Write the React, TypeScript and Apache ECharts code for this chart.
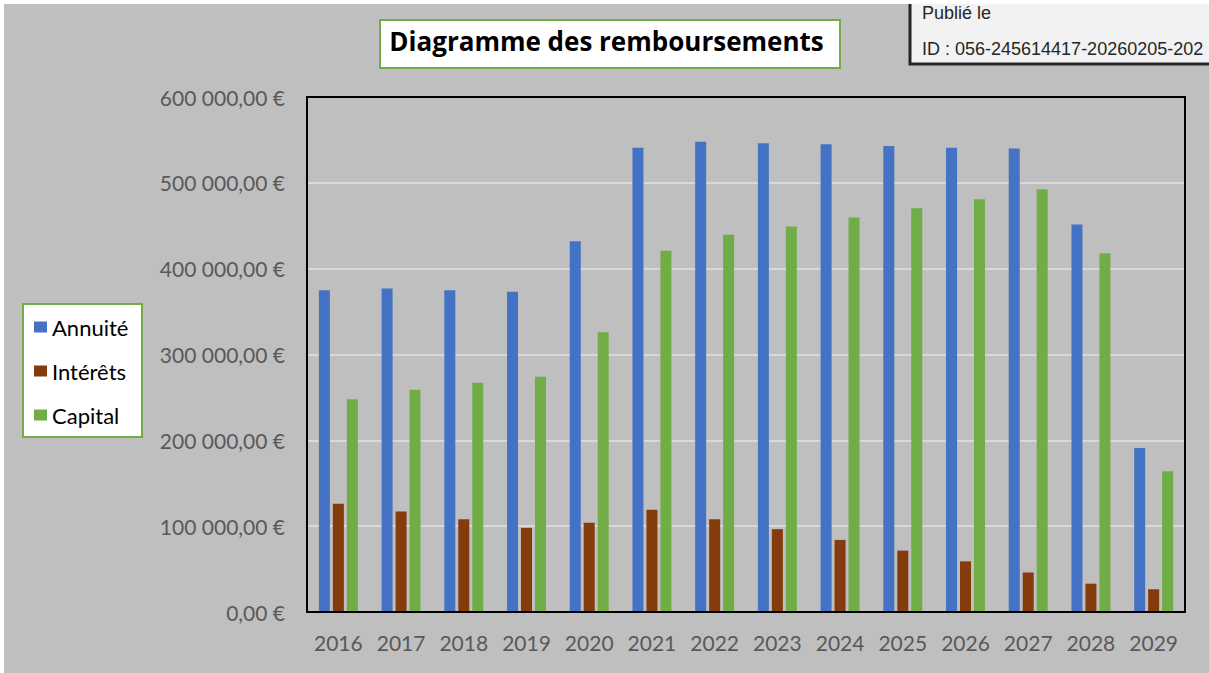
import React, { useEffect, useRef } from "react";
import * as echarts from "echarts";

const years = ["2016","2017","2018","2019","2020","2021","2022","2023","2024","2025","2026","2027","2028","2029"];
const annuite = [375000,377000,375000,373000,432000,541000,548000,546000,545000,543000,541000,540000,451500,191000];
const interets = [126000,117000,108000,98000,104000,119000,108000,96500,84000,71500,59000,46000,33000,26500];
const capital = [248000,259000,267000,274000,326000,421000,439500,449000,459500,470500,481000,492500,418000,164000];
const yTicks = { min: 0, max: 600000, interval: 100000 };

const fmtEuro = (v: number) =>
  Math.round(v).toString().replace(/\B(?=(\d{3})+(?!\d))/g, " ") + ",00 €";

export default function App() {
  const ref = useRef<HTMLDivElement>(null);
  useEffect(() => {
    if (!ref.current) return;
    const chart = echarts.init(ref.current, undefined, { renderer: "svg" });
    const font = "Lato, 'Open Sans', sans-serif";
    const boxFont = "18px 'Liberation Sans', Arial, sans-serif";
    chart.setOption({
      animation: false,
      backgroundColor: "#BFBFBF",
      title: {
        text: "Diagramme des remboursements",
        left: "center",
        top: 24,
        padding: 0,
        textStyle: { fontFamily: "'Open Sans', Lato, sans-serif", fontSize: 26, fontWeight: "bold", color: "#000", lineHeight: 26 },
        z: 10,
      },
      legend: {
        orient: "vertical",
        left: 30,
        top: 312,
        padding: 0,
        itemWidth: 13,
        itemHeight: 11,
        itemGap: 22,
        icon: "rect",
        textStyle: { fontFamily: font, fontSize: 22, lineHeight: 22, color: "#000" },
        data: ["Annuité", "Intérêts", "Capital"],
        z: 10,
      },
      graphic: [
        {
          type: "rect",
          z: 1,
          shape: { x: 376, y: 16, width: 460, height: 48 },
          style: { fill: "#fff", stroke: "#70AD47", lineWidth: 2 },
        },
        {
          type: "rect",
          z: 1,
          shape: { x: 19, y: 300, width: 119, height: 133 },
          style: { fill: "#fff", stroke: "#70AD47", lineWidth: 2 },
        },
        {
          type: "rect",
          z: 1,
          shape: { x: 906, y: -10, width: 330, height: 70 },
          style: { fill: "#F2F2F2", stroke: "#262626", lineWidth: 3 },
        },
        {
          type: "text",
          z: 2,
          x: 918,
          y: 9,
          style: { text: "Publié le", font: boxFont, fill: "#262626", textVerticalAlign: "middle" },
        },
        {
          type: "text",
          z: 2,
          x: 918,
          y: 45,
          style: { text: "ID : 056-245614417-20260205-202", font: boxFont, fill: "#262626", textVerticalAlign: "middle" },
        },
      ],
      grid: {
        left: 303,
        top: 93,
        width: 878,
        height: 515,
        show: true,
        borderColor: "#000",
        borderWidth: 2,
        backgroundColor: "transparent",
        z: 3,
      },
      xAxis: {
        type: "category",
        data: years,
        axisLine: { show: true, lineStyle: { color: "#000", width: 2 } },
        axisTick: { show: false },
        axisLabel: { fontFamily: font, fontSize: 21, color: "#595959", margin: 20, interval: 0 },
      },
      yAxis: {
        type: "value",
        min: yTicks.min,
        max: yTicks.max,
        interval: yTicks.interval,
        axisLine: { show: false },
        axisTick: { show: false },
        splitLine: { lineStyle: { color: "#D9D9D9", width: 2 } },
        axisLabel: { fontFamily: font, fontSize: 21, color: "#595959", margin: 22, formatter: fmtEuro },
      },
      series: [
        { name: "Annuité", type: "bar", data: annuite, barWidth: 11, barGap: "27%", itemStyle: { color: "#4472C4" } },
        { name: "Intérêts", type: "bar", data: interets, barWidth: 11, barGap: "27%", itemStyle: { color: "#843C0C" } },
        { name: "Capital", type: "bar", data: capital, barWidth: 11, barGap: "27%", itemStyle: { color: "#70AD47" } },
      ],
    });
    return () => chart.dispose();
  }, []);
  return (
    <div style={{ position: "fixed", left: 0, top: 0, width: 1209, height: 673, background: "#fff", overflow: "hidden" }}>
      <div ref={ref} style={{ position: "absolute", left: 4, top: 4, width: 1205, height: 669 }} />
    </div>
  );
}
